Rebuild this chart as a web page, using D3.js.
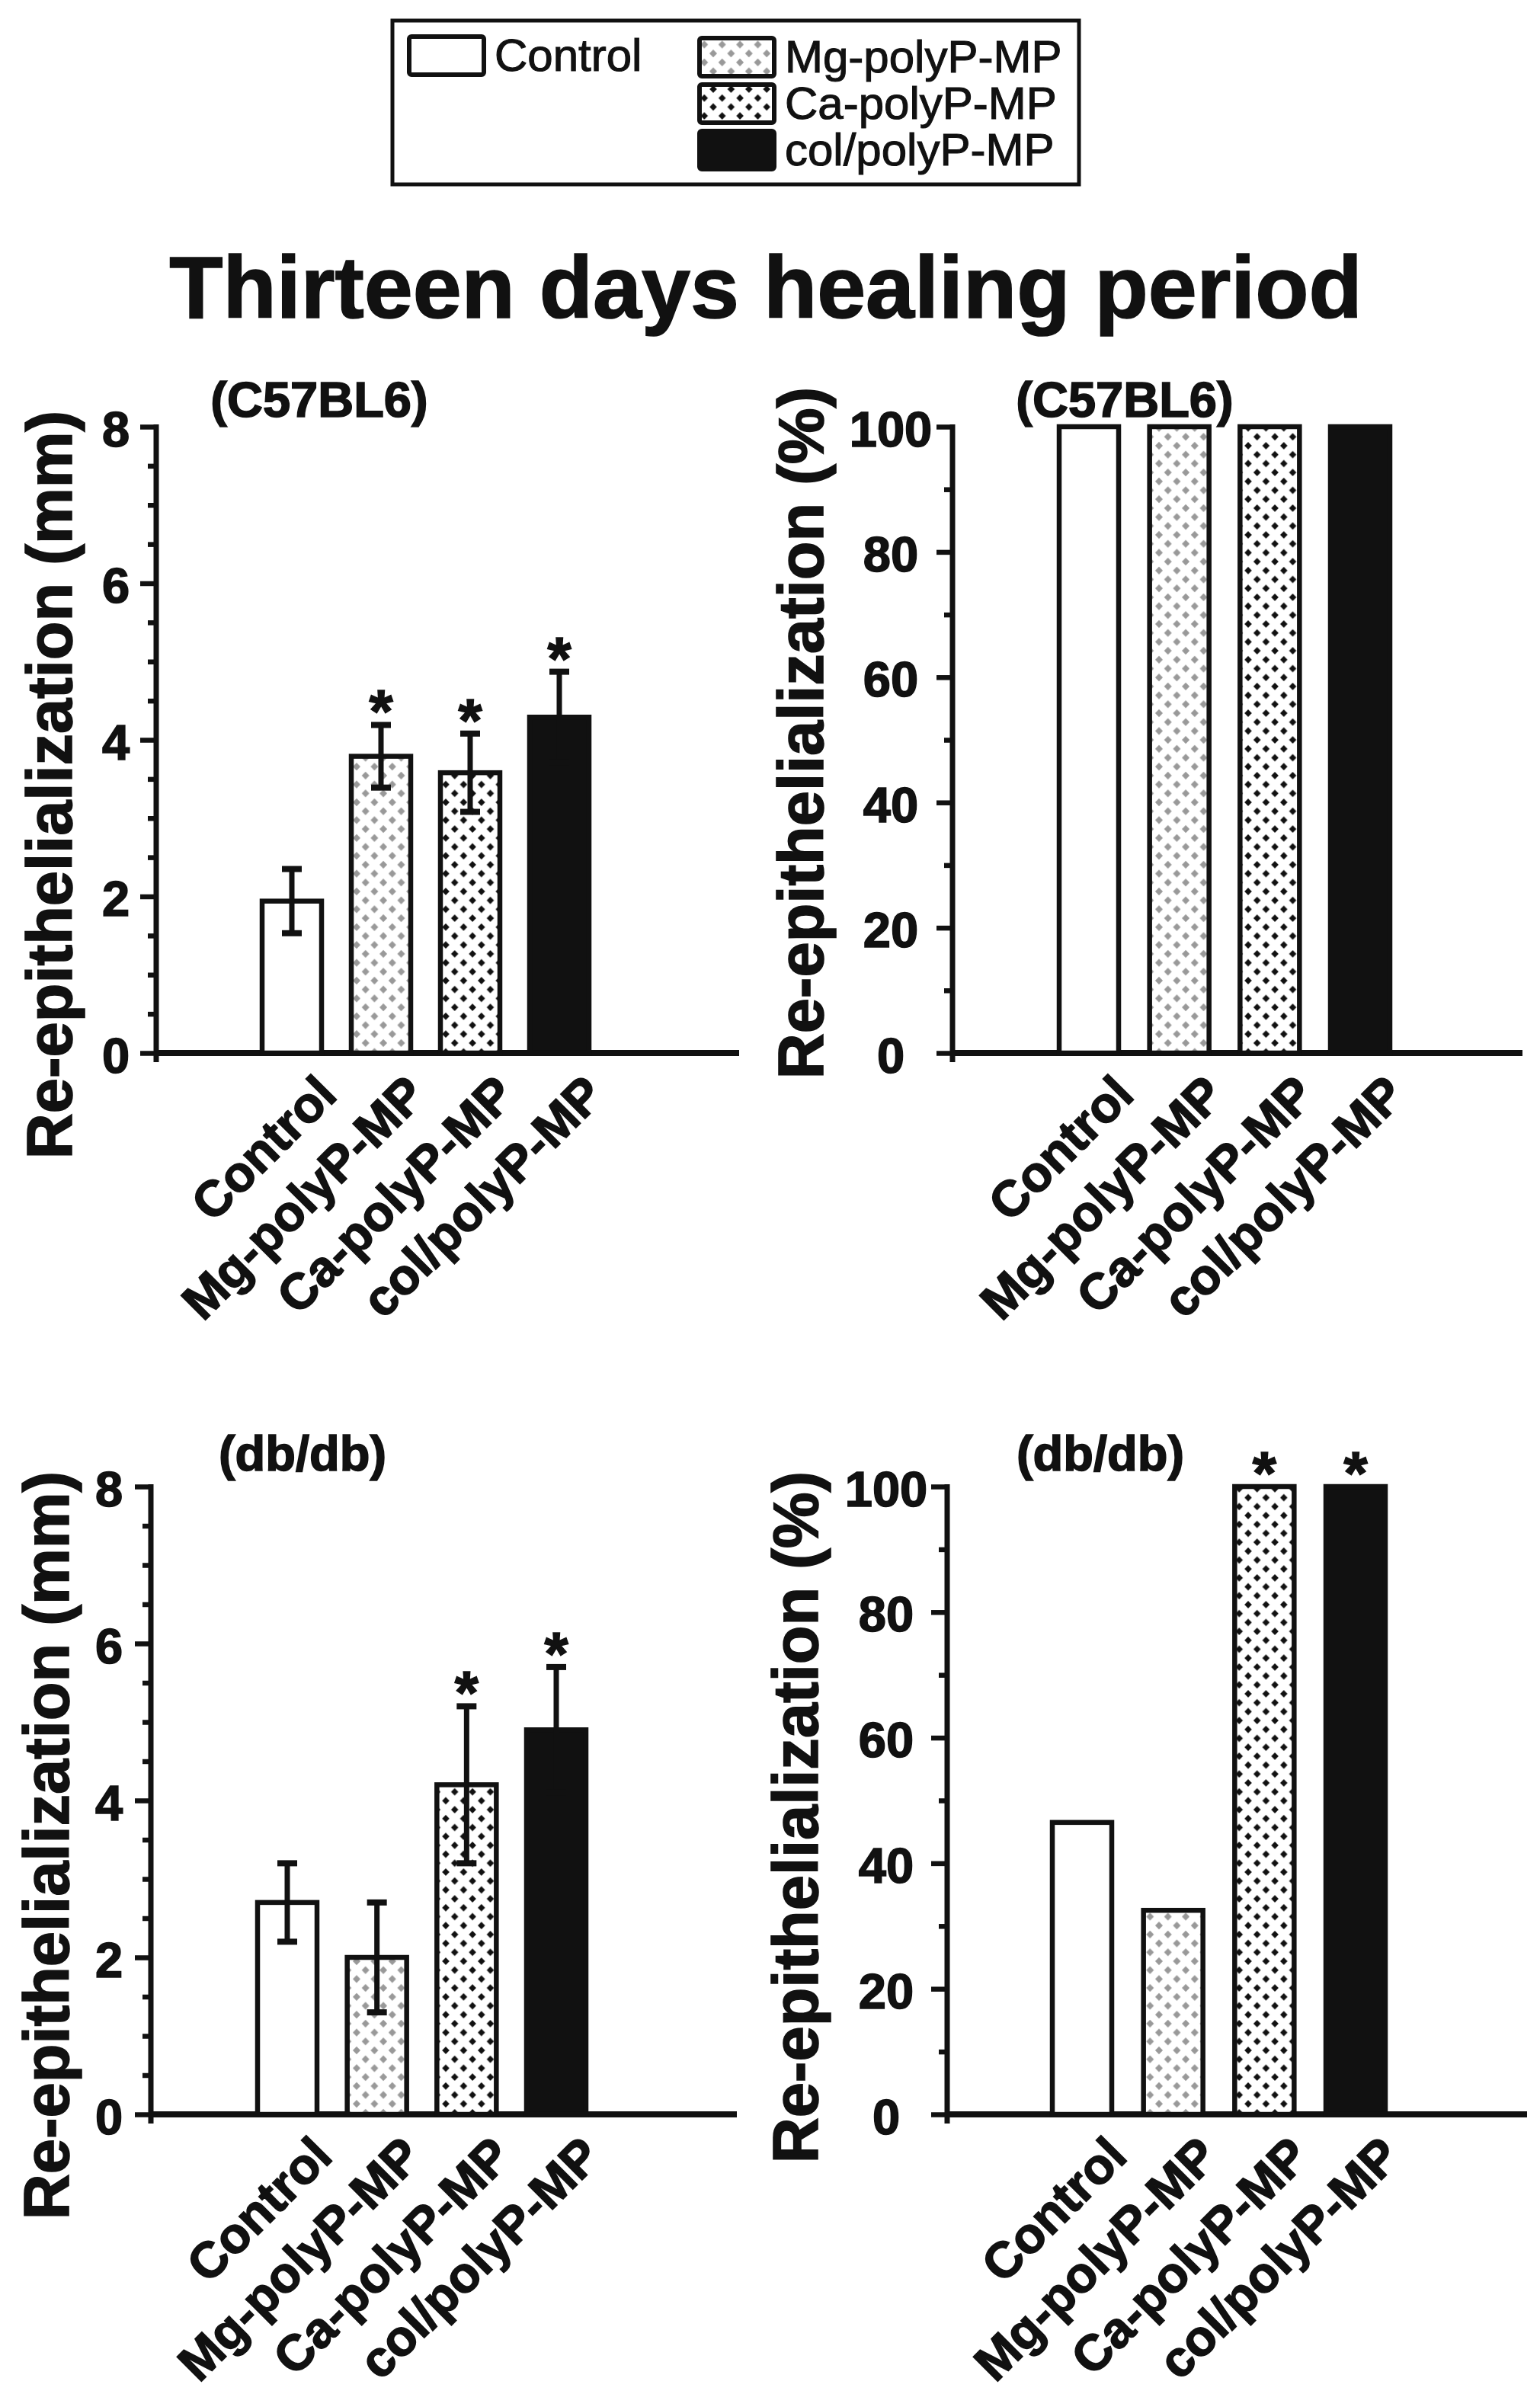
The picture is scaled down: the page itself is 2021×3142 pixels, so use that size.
<!DOCTYPE html>
<html>
<head>
<meta charset="utf-8">
<script src="https://cdn.jsdelivr.net/npm/d3@7"></script>
<style>
  body { margin: 0; background: #fff; }
  svg { display: block; }
  text { font-family: "Liberation Sans", Arial, sans-serif; fill: #111; }
  .heavy { stroke: #111; stroke-width: 1.6px; }
  .medium { stroke: #111; stroke-width: 1.1px; }
</style>
</head>
<body>
<svg id="fig" width="2021" height="3142"></svg>
<script>
// ---- data ----
var groups = ['Control', 'Mg-polyP-MP', 'Ca-polyP-MP', 'col/polyP-MP'];

var c57Mm    = [1.94, 3.79, 3.58, 4.29];
var c57MmErr = [0.41, 0.40, 0.50, 0.58];
var c57MmSig = [false, true, true, true];

var c57Pct    = [100, 100, 100, 100];
var c57PctSig = [false, false, false, false];

var dbMm    = [2.7, 2.0, 4.2, 4.9];
var dbMmErr = [0.5, 0.7, 1.0, 0.8];
var dbMmSig = [false, false, true, true];

var dbPct    = [46.5, 32.5, 100, 100];
var dbPctSig = [false, false, true, true];

var mmTicks  = [0, 2, 4, 6, 8];
var pctTicks = [0, 20, 40, 60, 80, 100];

var title = 'Thirteen days healing period';

// ---- layout (pixels) ----
var panels = [
    { strain: '(C57BL6)', unit: '(mm)', values: c57Mm, err: c57MmErr, sig: c57MmSig, max: 8, ticks: mmTicks, minor: 0.5,
      ax: 205, axEnd: 970, top: 560, base: 1382, c0: 383, c3: 734, lab: 152, stitle: [419, 547], ytitle: [94, 1030] }
  , { strain: '(C57BL6)', unit: '(%)', values: c57Pct, err: null, sig: c57PctSig, max: 100, ticks: pctTicks, minor: 10,
      ax: 1250, axEnd: 1998, top: 560, base: 1382, c0: 1429, c3: 1785, lab: 1169, stitle: [1476, 547], ytitle: [1080, 962] }
  , { strain: '(db/db)', unit: '(mm)', values: dbMm, err: dbMmErr, sig: dbMmSig, max: 8, ticks: mmTicks, minor: 0.5,
      ax: 198, axEnd: 967, top: 1951, base: 2775, c0: 377, c3: 730, lab: 143, stitle: [397, 1930], ytitle: [90, 2422] }
  , { strain: '(db/db)', unit: '(%)', values: dbPct, err: null, sig: dbPctSig, max: 100, ticks: pctTicks, minor: 10,
      ax: 1243, axEnd: 2004, top: 1951, base: 2775, c0: 1420, c3: 1779, lab: 1163, stitle: [1444, 1930], ytitle: [1073, 2385] }
];

var ink = '#111'
  , barW = 78
  , fills = ['#fff', 'url(#patMg)', 'url(#patCa)', ink];

var svg = d3.select('#fig');

// ---- dotted fills ----
var defs = svg.append('defs');
function dotPattern(id, color, r){
    var s = 23.4
      , p = defs.append('pattern').attr('id', id)
              .attr('patternUnits', 'userSpaceOnUse')
              .attr('width', s).attr('height', s);
    p.append('rect').attr('width', s).attr('height', s).attr('fill', '#fff');
    [[0, 0], [s, 0], [0, s], [s, s], [s / 2, s / 2]].forEach(function(c){
        p.append('path')
         .attr('d', 'M' + c[0] + ',' + (c[1] - r) + 'L' + (c[0] + r) + ',' + c[1] +
                    'L' + c[0] + ',' + (c[1] + r) + 'L' + (c[0] - r) + ',' + c[1] + 'Z')
         .attr('fill', color);
    });
}
dotPattern('patMg', '#999', 5);
dotPattern('patCa', ink, 4.8);

// ---- legend ----
var legend = svg.append('g').classed('legend', true);
legend.append('rect').attr('x', 515).attr('y', 27).attr('width', 901).attr('height', 215)
      .attr('fill', '#fff').attr('stroke', ink).attr('stroke-width', 5);

var legendPos = [[537, 48], [918, 50], [918, 111], [918, 172]];
groups.forEach(function(g, i){
    var p = legendPos[i];
    legend.append('rect').attr('x', p[0]).attr('y', p[1]).attr('width', 98).attr('height', 50)
          .attr('rx', 3)
          .attr('fill', fills[i]).attr('stroke', ink).attr('stroke-width', 6);
    legend.append('text').classed('medium', true)
          .attr('x', p[0] + 112).attr('y', p[1] + 45)
          .attr('font-size', 60).text(g);
});

// ---- main title ----
svg.append('text').classed('heavy', true).attr('x', 1005).attr('y', 417)
   .attr('text-anchor', 'middle').attr('font-size', 115).attr('font-weight', 'bold')
   .text(title);

// ---- panels ----
panels.forEach(function(o){
    var g = svg.append('g').classed('panel', true);

    var y = d3.scaleLinear().domain([0, o.max]).range([o.base, o.top]);

    var step = (o.c3 - o.c0) / 3
      , pad = 1 - barW / step
      , x = d3.scaleBand().domain(groups)
              .range([o.c0 - step / 2, o.c3 + step / 2])
              .paddingInner(pad).paddingOuter(pad / 2);

    // minor ticks
    var minorTicks = d3.range(0, o.max + o.minor / 2, o.minor)
                       .filter(function(v){ return o.ticks.indexOf(v) < 0; });
    var minorAxis = g.append('g').attr('transform', 'translate(' + [o.ax, 0] + ')')
        .call(d3.axisLeft(y).tickValues(minorTicks).tickSize(11).tickFormat(''));
    minorAxis.select('.domain').remove();

    // major ticks + labels
    var majorAxis = g.append('g').attr('transform', 'translate(' + [o.ax, 0] + ')')
        .call(d3.axisLeft(y).tickValues(o.ticks).tickSize(21));
    majorAxis.select('.domain').remove();
    majorAxis.selectAll('text')
        .classed('heavy', true)
        .attr('x', o.lab - o.ax).attr('dy', null).attr('y', 25)
        .attr('text-anchor', 'middle')
        .attr('font-size', 65).attr('font-weight', 'bold')
        .attr('font-family', '"Liberation Sans", Arial, sans-serif')
        .attr('fill', ink);
    g.selectAll('.tick line').attr('stroke', ink).attr('stroke-width', 6.5);

    // axis lines
    g.append('line').attr('x1', o.ax).attr('x2', o.ax)
        .attr('y1', y(o.max) - 3).attr('y2', y(0) + 12)
        .attr('stroke', ink).attr('stroke-width', 7);
    g.append('line').attr('x1', o.ax).attr('x2', o.axEnd)
        .attr('y1', y(0)).attr('y2', y(0))
        .attr('stroke', ink).attr('stroke-width', 8);

    // bars
    var data = groups.map(function(name, i){
        return { name: name, value: o.values[i], err: o.err ? o.err[i] : 0, sig: o.sig[i], fill: fills[i] };
    });

    var bars = g.append('g').classed('bars', true);
    bars.selectAll('rect').data(data).enter().append('rect')
        .attr('x', function(d){ return x(d.name); })
        .attr('y', function(d){ return y(d.value); })
        .attr('width', x.bandwidth())
        .attr('height', function(d){ return y(0) - y(d.value); })
        .attr('fill', function(d){ return d.fill; })
        .attr('stroke', ink).attr('stroke-width', 6.5);

    // error bars
    if(o.err){
        var eb = g.append('g').classed('errors', true)
                  .selectAll('g').data(data).enter().append('g')
                  .attr('transform', function(d){ return 'translate(' + [x(d.name) + x.bandwidth() / 2, 0] + ')'; });
        eb.append('line')
          .attr('y1', function(d){ return y(d.value - d.err); })
          .attr('y2', function(d){ return y(d.value + d.err); })
          .attr('stroke', ink).attr('stroke-width', 7);
        eb.append('line').attr('x1', -13).attr('x2', 13)
          .attr('y1', function(d){ return y(d.value + d.err); })
          .attr('y2', function(d){ return y(d.value + d.err); })
          .attr('stroke', ink).attr('stroke-width', 8);
        eb.append('line').attr('x1', -13).attr('x2', 13)
          .attr('y1', function(d){ return y(d.value - d.err); })
          .attr('y2', function(d){ return y(d.value - d.err); })
          .attr('stroke', ink).attr('stroke-width', 8);
    }

    // significance marks
    g.append('g').classed('sig', true)
     .selectAll('text').data(data.filter(function(d){ return d.sig; })).enter().append('text')
     .classed('heavy', true)
     .attr('x', function(d){ return x(d.name) + x.bandwidth() / 2; })
     .attr('y', function(d){ return y(d.value + d.err) + 10; })
     .attr('text-anchor', 'middle').attr('font-size', 80).attr('font-weight', 'bold')
     .text('*');

    // category labels
    g.append('g').classed('xlabels', true)
     .selectAll('text').data(groups).enter().append('text')
     .classed('heavy', true)
     .attr('transform', function(d){
         return 'translate(' + [x(d) + x.bandwidth() / 2 + 62, y(0) + 58] + ') rotate(-45)';
     })
     .attr('text-anchor', 'end').attr('font-size', 66).attr('font-weight', 'bold')
     .text(function(d){ return d; });

    // strain subtitle
    g.append('text').classed('heavy', true).attr('x', o.stitle[0]).attr('y', o.stitle[1])
     .attr('text-anchor', 'middle').attr('font-size', 65).attr('font-weight', 'bold')
     .text(o.strain);

    // y title
    g.append('text').classed('heavy', true)
     .attr('transform', 'translate(' + o.ytitle + ') rotate(-90)')
     .attr('text-anchor', 'middle').attr('font-size', 83).attr('font-weight', 'bold')
     .text('Re-epithelialization ' + o.unit);
});
</script>
</body>
</html>
